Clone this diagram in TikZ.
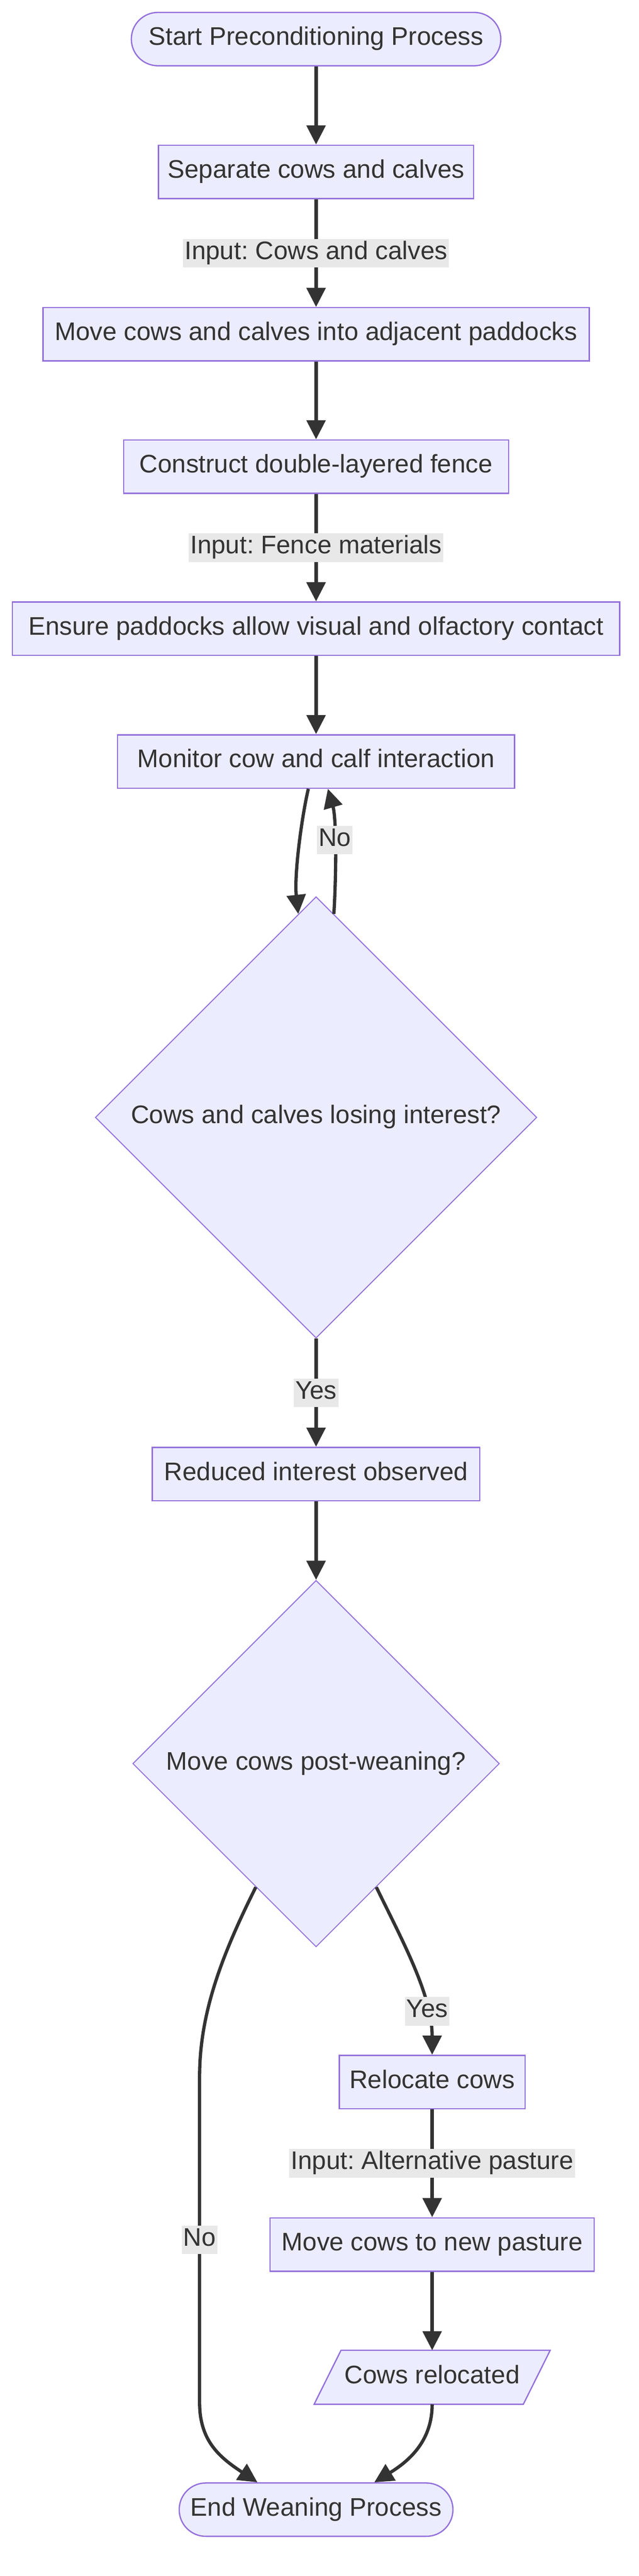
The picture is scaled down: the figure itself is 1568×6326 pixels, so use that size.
\documentclass[tikz,border=0pt]{standalone}
\usepackage{fontspec}
\setmainfont{Liberation Sans}
\frenchspacing
\usetikzlibrary{shapes.geometric,arrows.meta,calc,backgrounds}
\definecolor{mmfill}{HTML}{ECECFF}
\definecolor{mmline}{HTML}{9370DB}
\definecolor{mmtext}{HTML}{333333}
\definecolor{mmlabel}{HTML}{E8E8E8}

\begin{document}
\begin{tikzpicture}[x=0.25pt, y=-0.25pt,
  every node/.style = {font=\fontsize{15.6}{18}\selectfont, text=mmtext, text height=11pt, text depth=3.5pt},
  main/.style = {draw=mmline, fill=mmfill, line width=0.8pt, minimum height=32.75pt, inner xsep=3pt},
  term/.style = {main, rounded corners=16.3pt},
  dec/.style = {draw=mmline, fill=mmfill, line width=0.6pt, diamond, aspect=1, inner sep=0pt},
  io/.style = {minimum height=32.75pt, inner xsep=3pt},
  lbl/.style = {fill=mmlabel, inner xsep=1pt, inner ysep=1.5pt},
  arr/.style = {draw=mmtext, line width=2pt, -{Triangle[length=11.75pt, width=11.5pt]}}]
\useasboundingbox (0,0) rectangle (1568,6326);
\node[term, minimum width=226.75pt] (1) at (776,96) {Start Preconditioning Process};
\node[main, minimum width=193.5pt] (2) at (776,422) {Separate cows and calves};
\node[main, minimum width=335.25pt] (3) at (776,821) {Move cows and calves into adjacent paddocks};
\node[main, minimum width=236.25pt] (4) at (776,1146) {Construct double-layered fence};
\node[main, minimum width=372.75pt] (5) at (776,1544) {Ensure paddocks allow visual and olfactory contact};
\node[main, minimum width=243.75pt] (6) at (776,1870) {Monitor cow and calf interaction};
\node[dec, minimum size=271pt] (7) at (776,2744) {Cows and calves losing interest?};
\node[main, minimum width=201pt] (8) at (776,3620) {Reduced interest observed};
\node[dec, minimum size=225pt] (9) at (776,4331) {Move cows post-weaning?};
\node[main, minimum width=114pt] (10) at (1061,5113) {Relocate cows};
\node[main, minimum width=199pt] (11) at (1061,5512) {Move cows to new pasture};
\node[io, minimum width=128pt] (12) at (1061,5838) {Cows relocated};
\node[term, minimum width=168pt] (13) at (776,6163) {End Weaning Process};
\begin{scope}[on background layer]
\draw[draw=mmline, fill=mmfill, line width=0.8pt] ($(12.north west)+(33,0)$) -- ($(12.north east)+(33,0)$) -- ($(12.south east)+(-33,0)$) -- ($(12.south west)+(-33,0)$) -- cycle;
\end{scope}
\draw[arr] (1) -- (2);
\draw[arr] (2) -- node[lbl]{Input: Cows and calves} (3);
\draw[arr] (3) -- (4);
\draw[arr] (4) -- node[lbl]{Input: Fence materials} (5);
\draw[arr] (5) -- (6);
\draw[arr] ([xshift=-4.75pt]6.south) .. controls (740,2010) and (722,2150) .. (7.95);
\draw[arr] (7.85) .. controls (826,2140) and (826,2010) .. node[lbl, pos=0.55]{No} ([xshift=7.25pt]6.south);
\draw[arr] (7) -- node[lbl]{Yes} (8);
\draw[arr] (8) -- (9);
\draw[arr] (9.296) .. controls (990,4770) and (1061,4900) .. node[lbl, pos=0.75]{Yes} (10);
\draw[arr] (10) -- node[lbl]{Input: Alternative pasture} (11);
\draw[arr] (11) -- (12);
\draw[arr] (9.244) .. controls (540,4810) and (490,4950) .. (490,5100) -- node[lbl]{No} (490,5900) .. controls (490,5995) and (540,6035) .. ([xshift=-36pt]13.north);
\draw[arr] (12.south) .. controls (1061,5990) and (1010,6040) .. ([xshift=35.75pt]13.north);
\end{tikzpicture}
\end{document}
